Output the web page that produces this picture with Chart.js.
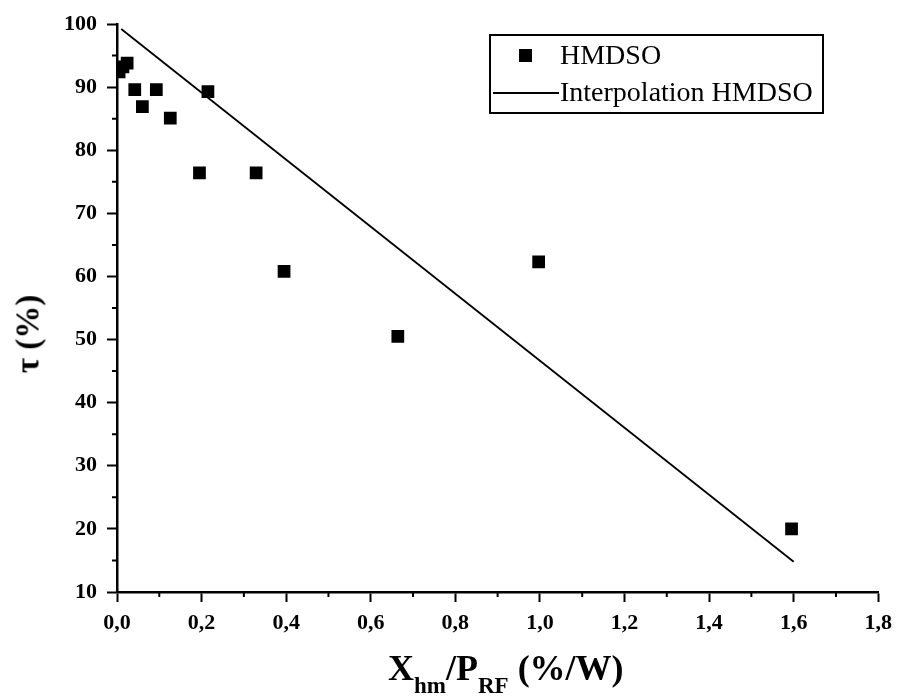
<!DOCTYPE html>
<html>
<head>
<meta charset="utf-8">
<script src="https://cdn.jsdelivr.net/npm/chart.js@4"></script>
<style>
  body { margin: 0; background: #fff; }
  #wrap { position: relative; width: 900px; height: 697px; font-family: "Liberation Serif", "Times New Roman", serif; color: #000; }
  #chart { position: absolute; left: 0; top: 0; }
  .xtitle { position: absolute; left: 388px; top: 646px; font-weight: bold; font-size: 36px; line-height: 44px; white-space: nowrap; }
  .xtitle sub { font-size: 23px; vertical-align: -13px; line-height: 0; }
  .ytitle { position: absolute; left: 28px; top: 334px; transform: translate(-50%, -50%) rotate(-90deg); font-weight: bold; font-size: 33px; white-space: nowrap; }
  .legend { position: absolute; left: 489px; top: 34px; width: 331px; height: 76px; border: 2px solid #000; font-size: 28px; }
  .legend .row { position: absolute; left: 0; height: 32px; line-height: 32px; white-space: nowrap; }
  .legend .sym { position: absolute; }
</style>
</head>
<body>
<div id="wrap">
  <canvas id="chart" width="900" height="697"></canvas>
  <div class="ytitle">τ (%)</div>
  <div class="xtitle">X<sub>hm</sub>/P<sub>RF</sub> (%/W)</div>
  <div class="legend">
    <div class="row" style="top:3px; width:331px;">
      <span class="sym" style="left:28px; top:10px; width:13px; height:13px; background:#000;"></span>
      <span style="position:absolute; left:69px;">HMDSO</span>
    </div>
    <div class="row" style="top:40px; width:331px;">
      <span class="sym" style="left:2px; top:16px; width:66px; height:1.5px; background:#000;"></span>
      <span style="position:absolute; left:69px;">Interpolation HMDSO</span>
    </div>
  </div>
</div>
<script>
const hmdsoX = [0.005, 0.014, 0.024, 0.042, 0.06, 0.093, 0.126, 0.195, 0.215, 0.329, 0.395, 0.664, 0.997, 1.595];
const hmdsoY = [92.4, 93.2, 93.8, 89.6, 86.9, 89.6, 85.1, 76.4, 89.3, 76.4, 60.8, 50.5, 62.3, 20.0];

// Interpolationsgerade (Endpunkte)
const fitX = [0.01, 1.6];
const fitY = [99.2, 14.8];

// Achsen
const xTicks = [0, 0.2, 0.4, 0.6, 0.8, 1.0, 1.2, 1.4, 1.6, 1.8];
const xMinor = [0.1, 0.3, 0.5, 0.7, 0.9, 1.1, 1.3, 1.5, 1.7];
const yTicks = [10, 20, 30, 40, 50, 60, 70, 80, 90, 100];
const yMinor = [15, 25, 35, 45, 55, 65, 75, 85, 95];

const tickFont = { family: '"Liberation Serif", "Times New Roman", serif', size: 22, weight: 'bold' };

// Kleine Zwischenstriche an beiden Achsen zeichnen.
const minorTicks = {
  id: 'minorTicks',
  afterDraw(chart) {
    const { ctx, scales: { x, y }, chartArea } = chart;
    ctx.save();
    ctx.strokeStyle = '#000';
    ctx.lineWidth = 2;
    ctx.beginPath();
    for (const v of xMinor) {
      const px = x.getPixelForValue(v);
      ctx.moveTo(px, chartArea.bottom);
      ctx.lineTo(px, chartArea.bottom + 5);
    }
    for (const v of yMinor) {
      const py = y.getPixelForValue(v);
      ctx.moveTo(chartArea.left, py);
      ctx.lineTo(chartArea.left - 5, py);
    }
    ctx.stroke();
    ctx.restore();
  }
};

new Chart(document.getElementById('chart'), {
  type: 'scatter',
  data: {
    datasets: [
      {
        label: 'HMDSO',
        data: hmdsoX.map((x, i) => ({ x, y: hmdsoY[i] })),
        pointStyle: 'rect',
        pointRadius: 9,
        backgroundColor: '#000',
        borderColor: '#000',
        borderWidth: 0,
      },
      {
        label: 'Interpolation HMDSO',
        type: 'line',
        data: fitX.map((x, i) => ({ x, y: fitY[i] })),
        borderColor: '#000',
        borderWidth: 1.8,
        pointRadius: 0,
        fill: false,
      }
    ]
  },
  options: {
    responsive: false,
    animation: false,
    layout: { padding: { top: 24, right: 17, bottom: 0, left: 0 } },
    plugins: { legend: { display: false }, tooltip: { enabled: false } },
    scales: {
      x: {
        type: 'linear',
        min: 0, max: 1.8,
        afterBuildTicks: s => { s.ticks = xTicks.map(v => ({ value: v })); },
        afterFit: s => { s.height = 105; },
        ticks: {
          color: '#000', font: tickFont, padding: 8, maxRotation: 0,
          callback: v => v.toFixed(1).replace('.', ',')
        },
        grid: { drawOnChartArea: false, drawTicks: true, tickLength: 10, tickColor: '#000', tickWidth: 2 },
        border: { display: true, color: '#000', width: 2.5 }
      },
      y: {
        type: 'linear',
        min: 10, max: 100,
        afterBuildTicks: s => { s.ticks = yTicks.map(v => ({ value: v })); },
        afterFit: s => { s.width = 117; },
        ticks: { color: '#000', font: tickFont, padding: 10 },
        grid: { drawOnChartArea: false, drawTicks: true, tickLength: 10, tickColor: '#000', tickWidth: 2 },
        border: { display: true, color: '#000', width: 2.5 }
      }
    }
  },
  plugins: [minorTicks]
});
</script>
</body>
</html>
